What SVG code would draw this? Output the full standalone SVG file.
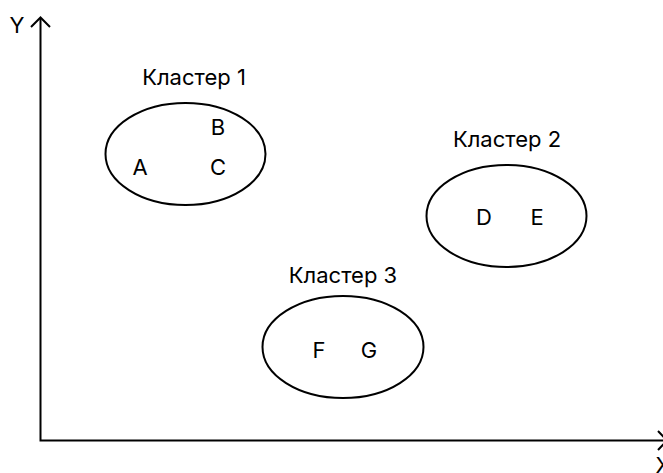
<svg xmlns="http://www.w3.org/2000/svg" width="663" height="473" viewBox="0 0 663 473">
<style>
text{font-family:Inter,"Liberation Sans",sans-serif;font-size:22px;fill:#000;text-anchor:middle}
.c{fill:#fff;stroke:#000;stroke-width:2}
.ax{fill:none;stroke:#000;stroke-width:2}
</style>
<rect width="663" height="473" fill="#fff"/>
<g id="axes">
<path class="ax" d="M40.5,18 V440.5 H666"/>
<path class="ax" d="M31,27 L40.5,17.5 L50,27"/>
<path class="ax" d="M658,431 L667,440.5 L658,450"/>
<text x="17" y="33">Y</text>
<text x="663" y="473">X</text>
</g>
<g id="cluster1">
<ellipse class="c" cx="185.5" cy="154" rx="80" ry="51"/>
<text x="194" y="85">Кластер 1</text>
<text x="140" y="175">A</text>
<text x="218" y="135">B</text>
<text x="218" y="175">C</text>
</g>
<g id="cluster2">
<ellipse class="c" cx="506.5" cy="216" rx="80" ry="51"/>
<text x="507" y="147">Кластер 2</text>
<text x="484" y="225">D</text>
<text x="537" y="225">E</text>
</g>
<g id="cluster3">
<ellipse class="c" cx="343" cy="347" rx="80.5" ry="51"/>
<text x="343" y="283">Кластер 3</text>
<text x="319" y="358">F</text>
<text x="369" y="358">G</text>
</g>
</svg>
